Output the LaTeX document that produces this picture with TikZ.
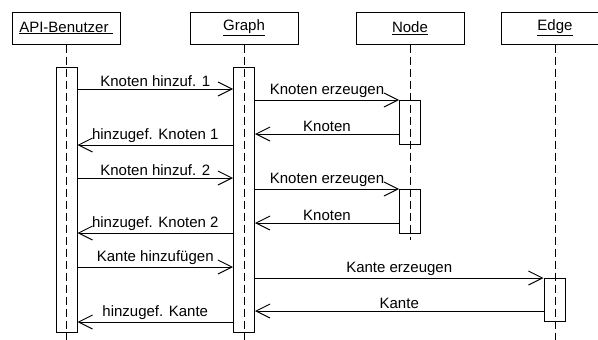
\documentclass[tikz,border=0pt]{standalone}
\usepackage{fontspec}
\setmainfont{Liberation Sans}
\usetikzlibrary{arrows.meta,positioning}

\tikzset{
    objbox/.style={rectangle, draw, minimum width=108pt, minimum height=32pt, inner sep=0pt},
    lifeline/.style={dash pattern=on 8pt off 4pt},
    actbar/.style={rectangle, draw, minimum width=21pt, inner sep=0pt},
    msg/.style={-{Straight Barb[length=14pt,width=14pt]}},
    msglabel/.style={above, inner sep=1.5pt}
}

\begin{document}
\begin{tikzpicture}[x=1pt, y=-1pt, line width=1pt, font=\fontsize{15}{18}\selectfont]
    \useasboundingbox (0,0) rectangle (598,340);
    \clip (0,0) rectangle (598,340);

    % Objects
    \node[objbox] (api) at (66,28) {\underline{API-Benutzer\ }};
    \node[objbox] (graph) at (244,28) {\underline{Graph}};
    \node[objbox] (node) at (410,28) {\underline{Node}};
    \node[objbox] (edge) at (555,28) {\underline{Edge}};

    % Lifelines
    \coordinate (apiend) at (66,345);
    \coordinate (graphend) at (244,345);
    \coordinate (nodeend) at (410,240);
    \coordinate (edgeend) at (555,345);
    \draw[lifeline] (api.south) -- (apiend);
    \draw[lifeline] (graph.south) -- (graphend);
    \draw[lifeline] (node.south) -- (nodeend);
    \draw[lifeline] (edge.south) -- (edgeend);

    % Activation bars
    \node[actbar, minimum height=265pt] (apibar) at (66.5,199.5) {};
    \node[actbar, minimum height=265pt] (graphbar) at (244,199.5) {};
    \node[actbar, minimum height=44pt] (nodebar1) at (410,122) {};
    \node[actbar, minimum height=44pt] (nodebar2) at (410,211) {};
    \node[actbar, minimum height=43pt] (edgebar) at (554.5,299.5) {};

    % Message heights
    \coordinate (m1) at (0,89);
    \coordinate (m2) at (0,100);
    \coordinate (m3) at (0,134);
    \coordinate (m4) at (0,145);
    \coordinate (m5) at (0,178);
    \coordinate (m6) at (0,189);
    \coordinate (m7) at (0,223);
    \coordinate (m8) at (0,233);
    \coordinate (m9) at (0,267);
    \coordinate (m10) at (0,278);
    \coordinate (m11) at (0,311);
    \coordinate (m12) at (0,322);

    % Messages
    \draw[msg] (apibar.east |- m1) -- node[msglabel] {Knoten hinzuf. 1} (graphbar.west |- m1);
    \draw[msg] (graphbar.east |- m2) -- node[msglabel] {Knoten erzeugen} (nodebar1.west |- m2);
    \draw[msg] (nodebar1.west |- m3) -- node[msglabel] {Knoten} (graphbar.east |- m3);
    \draw[msg] (graphbar.west |- m4) -- node[msglabel] {hinzugef. Knoten 1} (apibar.east |- m4);
    \draw[msg] (apibar.east |- m5) -- node[msglabel] {Knoten hinzuf. 2} (graphbar.west |- m5);
    \draw[msg] (graphbar.east |- m6) -- node[msglabel] {Knoten erzeugen} (nodebar2.west |- m6);
    \draw[msg] (nodebar2.west |- m7) -- node[msglabel] {Knoten} (graphbar.east |- m7);
    \draw[msg] (graphbar.west |- m8) -- node[msglabel] {hinzugef. Knoten 2} (apibar.east |- m8);
    \draw[msg] (apibar.east |- m9) -- node[msglabel] {Kante hinzufügen} (graphbar.west |- m9);
    \draw[msg] (graphbar.east |- m10) -- node[msglabel] {Kante erzeugen} (edgebar.west |- m10);
    \draw[msg] (edgebar.west |- m11) -- node[msglabel] {Kante} (graphbar.east |- m11);
    \draw[msg] (graphbar.west |- m12) -- node[msglabel] {hinzugef. Kante} (apibar.east |- m12);
\end{tikzpicture}
\end{document}
